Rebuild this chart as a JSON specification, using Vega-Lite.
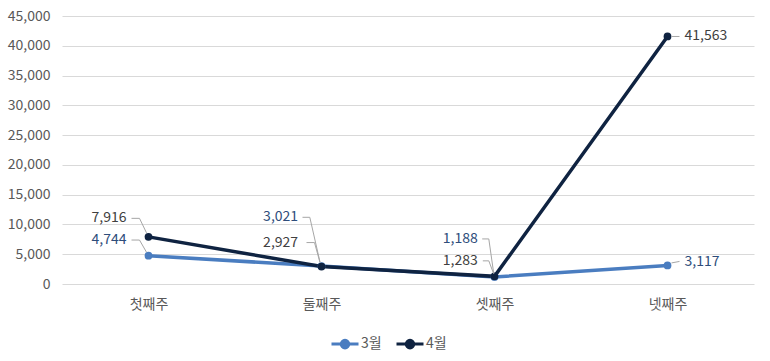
{
  "$schema": "https://vega.github.io/schema/vega-lite/v6.json",
  "width": 692,
  "height": 268,
  "autosize": {"type": "none"},
  "padding": {"left": 62, "top": 16, "right": 16, "bottom": 77},
  "background": "white",
  "config": {
    "font": "Noto Sans CJK KR",
    "view": {"stroke": null},
    "text": {"font": "Noto Sans CJK KR", "fontSize": 14}
  },
  "data": {
    "values": [
      {"week": "첫째주", "m": "3월", "v": 4744},
      {"week": "둘째주", "m": "3월", "v": 3021},
      {"week": "셋째주", "m": "3월", "v": 1188},
      {"week": "넷째주", "m": "3월", "v": 3117},
      {"week": "첫째주", "m": "4월", "v": 7916},
      {"week": "둘째주", "m": "4월", "v": 2927},
      {"week": "셋째주", "m": "4월", "v": 1283},
      {"week": "넷째주", "m": "4월", "v": 41563}
    ]
  },
  "encoding": {
    "x": {
      "field": "week", "type": "nominal",
      "sort": ["첫째주", "둘째주", "셋째주", "넷째주"],
      "scale": {"type": "point", "padding": 0.5},
      "axis": {"title": null, "labelAngle": 0, "ticks": false, "domain": false, "grid": false,
               "labelPadding": 13, "labelFontSize": 14, "labelColor": "#595959", "labelFont": "Noto Sans CJK KR"}
    },
    "y": {
      "field": "v", "type": "quantitative",
      "scale": {"domain": [0, 45000], "nice": false},
      "axis": {"title": null, "values": [0, 5000, 10000, 15000, 20000, 25000, 30000, 35000, 40000, 45000],
               "format": ",.0f", "domain": false, "ticks": false, "labelPadding": 12,
               "labelFontSize": 14, "labelColor": "#595959", "gridColor": "#d9d9d9", "labelFont": "Noto Sans CJK KR"}
    }
  },
  "layer": [
    {
      "mark": {"type": "line", "strokeWidth": 3.5},
      "encoding": {
        "color": {
          "field": "m", "type": "nominal",
          "scale": {"domain": ["3월", "4월"], "range": ["#4a7dc0", "#0f2341"]},
          "legend": {
            "title": null, "orient": "none", "direction": "horizontal", "legendX": 268, "legendY": 313,
            "labelFontSize": 14, "labelColor": "#595959", "labelFont": "Noto Sans CJK KR",
            "symbolType": "M-1,0L1,0M-0.28,0A0.28,0.28,0,1,0,0.28,0A0.28,0.28,0,1,0,-0.28,0Z",
            "symbolSize": 729, "symbolStrokeWidth": 3, "labelOffset": 1, "columnPadding": 8,
            "encode": {"symbols": {"update": {"fill": {"scale": "color", "field": "value"}, "fillOpacity": {"value": 1}}}}
          }
        }
      }
    },
    {
      "mark": {"type": "point", "filled": true, "size": 60, "opacity": 1},
      "encoding": {
        "color": {"field": "m", "type": "nominal", "legend": null}
      }
    },
    {"transform": [{"filter": "datum.week == '첫째주' && datum.m == '4월'"}],
     "layer": [
       {"mark": {"type": "rule", "color": "#a6a6a6", "strokeWidth": 1, "xOffset": -17, "yOffset": -18.5, "x2Offset": -9, "y2Offset": -18.5},
        "encoding": {"x2": {"field": "week"}, "y2": {"field": "v"}}},
       {"mark": {"type": "rule", "color": "#a6a6a6", "strokeWidth": 1, "xOffset": -9, "yOffset": -18.5, "x2Offset": -2, "y2Offset": -4},
        "encoding": {"x2": {"field": "week"}, "y2": {"field": "v"}}},
       {"mark": {"type": "text", "align": "right", "baseline": "middle", "dx": -22, "dy": -18.5, "color": "#404040"},
        "encoding": {"text": {"field": "v", "format": ","}}}
     ]},
    {"transform": [{"filter": "datum.week == '첫째주' && datum.m == '3월'"}],
     "layer": [
       {"mark": {"type": "rule", "color": "#a6a6a6", "strokeWidth": 1, "xOffset": -17, "yOffset": -15.7, "x2Offset": -9, "y2Offset": -15.7},
        "encoding": {"x2": {"field": "week"}, "y2": {"field": "v"}}},
       {"mark": {"type": "rule", "color": "#a6a6a6", "strokeWidth": 1, "xOffset": -9, "yOffset": -15.7, "x2Offset": -2, "y2Offset": -3.5},
        "encoding": {"x2": {"field": "week"}, "y2": {"field": "v"}}},
       {"mark": {"type": "text", "align": "right", "baseline": "middle", "dx": -22, "dy": -15.7, "color": "#2e4d7b"},
        "encoding": {"text": {"field": "v", "format": ","}}}
     ]},
    {"transform": [{"filter": "datum.week == '둘째주' && datum.m == '3월'"}],
     "layer": [
       {"mark": {"type": "rule", "color": "#a6a6a6", "strokeWidth": 1, "xOffset": -19, "yOffset": -48.7, "x2Offset": -11.7, "y2Offset": -48.7},
        "encoding": {"x2": {"field": "week"}, "y2": {"field": "v"}}},
       {"mark": {"type": "rule", "color": "#a6a6a6", "strokeWidth": 1, "xOffset": -11.7, "yOffset": -48.7, "x2Offset": -1.5, "y2Offset": -4},
        "encoding": {"x2": {"field": "week"}, "y2": {"field": "v"}}},
       {"mark": {"type": "text", "align": "right", "baseline": "middle", "dx": -23.4, "dy": -48.7, "color": "#2e4d7b"},
        "encoding": {"text": {"field": "v", "format": ","}}}
     ]},
    {"transform": [{"filter": "datum.week == '둘째주' && datum.m == '4월'"}],
     "layer": [
       {"mark": {"type": "rule", "color": "#a6a6a6", "strokeWidth": 1, "xOffset": -15, "yOffset": -24, "x2Offset": -7, "y2Offset": -24},
        "encoding": {"x2": {"field": "week"}, "y2": {"field": "v"}}},
       {"mark": {"type": "rule", "color": "#a6a6a6", "strokeWidth": 1, "xOffset": -7, "yOffset": -24, "x2Offset": -1.5, "y2Offset": -4},
        "encoding": {"x2": {"field": "week"}, "y2": {"field": "v"}}},
       {"mark": {"type": "text", "align": "right", "baseline": "middle", "dx": -23.4, "dy": -24, "color": "#404040"},
        "encoding": {"text": {"field": "v", "format": ","}}}
     ]},
    {"transform": [{"filter": "datum.week == '셋째주' && datum.m == '3월'"}],
     "layer": [
       {"mark": {"type": "rule", "color": "#a6a6a6", "strokeWidth": 1, "xOffset": -12.3, "yOffset": -38, "x2Offset": -5.7, "y2Offset": -38},
        "encoding": {"x2": {"field": "week"}, "y2": {"field": "v"}}},
       {"mark": {"type": "rule", "color": "#a6a6a6", "strokeWidth": 1, "xOffset": -5.7, "yOffset": -38, "x2Offset": -0.7, "y2Offset": -3},
        "encoding": {"x2": {"field": "week"}, "y2": {"field": "v"}}},
       {"mark": {"type": "text", "align": "right", "baseline": "middle", "dx": -16.7, "dy": -38, "color": "#2e4d7b"},
        "encoding": {"text": {"field": "v", "format": ","}}}
     ]},
    {"transform": [{"filter": "datum.week == '셋째주' && datum.m == '4월'"}],
     "layer": [
       {"mark": {"type": "rule", "color": "#a6a6a6", "strokeWidth": 1, "xOffset": -11.7, "yOffset": -15.5, "x2Offset": -5.7, "y2Offset": -15.5},
        "encoding": {"x2": {"field": "week"}, "y2": {"field": "v"}}},
       {"mark": {"type": "rule", "color": "#a6a6a6", "strokeWidth": 1, "xOffset": -5.7, "yOffset": -15.5, "x2Offset": -1, "y2Offset": -3},
        "encoding": {"x2": {"field": "week"}, "y2": {"field": "v"}}},
       {"mark": {"type": "text", "align": "right", "baseline": "middle", "dx": -16.7, "dy": -15.5, "color": "#404040"},
        "encoding": {"text": {"field": "v", "format": ","}}}
     ]},
    {"transform": [{"filter": "datum.week == '넷째주' && datum.m == '3월'"}],
     "layer": [
       {"mark": {"type": "rule", "color": "#a6a6a6", "strokeWidth": 1, "xOffset": 4, "yOffset": -2.5, "x2Offset": 12, "y2Offset": -4},
        "encoding": {"x2": {"field": "week"}, "y2": {"field": "v"}}},
       {"mark": {"type": "text", "align": "left", "baseline": "middle", "dx": 17, "dy": -3.3, "color": "#2e4d7b"},
        "encoding": {"text": {"field": "v", "format": ","}}}
     ]},
    {"transform": [{"filter": "datum.week == '넷째주' && datum.m == '4월'"}],
     "layer": [
       {"mark": {"type": "rule", "color": "#a6a6a6", "strokeWidth": 1, "xOffset": 4, "yOffset": 0, "x2Offset": 12, "y2Offset": 0},
        "encoding": {"x2": {"field": "week"}, "y2": {"field": "v"}}},
       {"mark": {"type": "text", "align": "left", "baseline": "middle", "dx": 17, "dy": 0, "color": "#404040"},
        "encoding": {"text": {"field": "v", "format": ","}}}
     ]}
  ]
}
